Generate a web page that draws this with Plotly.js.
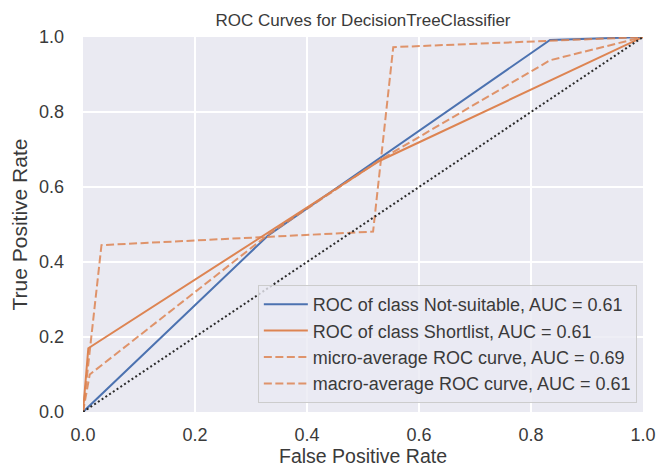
<!DOCTYPE html>
<html>
<head>
<meta charset="utf-8">
<script src="https://cdn.plot.ly/plotly-3.0.1.min.js"></script>
<style>
  html, body { margin: 0; padding: 0; background: #ffffff; }
  #chart { width: 659px; height: 468px; }
</style>
</head>
<body>
<div id="chart"></div>
<script>
// ROC curve points (false positive rate / true positive rate) per series
const notSuitableFpr = [0, 0.33, 0.834, 1];
const notSuitableTpr = [0, 0.47, 0.992, 1];

const shortlistFpr = [0, 0.0095, 0.53, 1];
const shortlistTpr = [0, 0.17, 0.67, 1];

const microFpr = [0, 0.033, 0.518, 0.554, 1];
const microTpr = [0, 0.445, 0.481, 0.973, 1];

const macroFpr = [0, 0.012, 0.33, 0.53, 0.834, 1];
const macroTpr = [0, 0.1, 0.472, 0.672, 0.938, 1];

const chanceLine = [0, 1];

const seriesNames = [
  'ROC of class Not-suitable, AUC = 0.61',
  'ROC of class Shortlist, AUC = 0.61',
  'micro-average ROC curve, AUC = 0.69',
  'macro-average ROC curve, AUC = 0.61'
];

const tickValues = [0, 0.2, 0.4, 0.6, 0.8, 1.0];
const tickLabels = ['0.0', '0.2', '0.4', '0.6', '0.8', '1.0'];

const FONT = 'Liberation Sans, Arial, Helvetica, sans-serif';
const TEXT = '#3a3a3a';
const BLUE = '#4C72B0';
const ORANGE = '#DD8452';
const ORANGE_DASH = 'rgba(221,132,82,0.85)';

const traces = [
  {
    x: notSuitableFpr, y: notSuitableTpr, name: seriesNames[0],
    mode: 'lines', line: { color: BLUE, width: 2 }
  },
  {
    x: shortlistFpr, y: shortlistTpr, name: seriesNames[1],
    mode: 'lines', line: { color: ORANGE, width: 2 }
  },
  {
    x: microFpr, y: microTpr, name: seriesNames[2],
    mode: 'lines', line: { color: ORANGE_DASH, width: 2, dash: '8px,3.5px' }
  },
  {
    x: macroFpr, y: macroTpr, name: seriesNames[3],
    mode: 'lines', line: { color: ORANGE_DASH, width: 2, dash: '8px,3.5px' }
  },
  {
    x: chanceLine, y: chanceLine, showlegend: false,
    mode: 'lines', line: { color: '#2a2a2a', width: 2, dash: '2px,2.5px' },
    hoverinfo: 'skip'
  }
];

const axisBase = {
  range: [0, 1],
  tickvals: tickValues,
  ticktext: tickLabels,
  showgrid: true,
  gridcolor: '#ffffff',
  gridwidth: 1.5,
  zeroline: false,
  showline: false,
  ticks: '',
  tickfont: { family: FONT, size: 18, color: TEXT },
  fixedrange: true
};

const layout = {
  width: 659,
  height: 468,
  margin: { l: 83, r: 16, t: 37, b: 56 },
  paper_bgcolor: '#ffffff',
  plot_bgcolor: '#EAEAF2',
  font: { family: FONT, color: TEXT },
  title: {
    text: 'ROC Curves for DecisionTreeClassifier',
    font: { family: FONT, size: 17, color: TEXT },
    x: 0.5, xref: 'paper', xanchor: 'center',
    y: 0.957, yref: 'container', yanchor: 'middle'
  },
  xaxis: Object.assign({}, axisBase, {
    ticklabelstandoff: 10,
    title: { text: 'False Positive Rate', font: { family: FONT, size: 19.5, color: TEXT }, standoff: 0 }
  }),
  yaxis: Object.assign({}, axisBase, {
    ticklabelstandoff: 18,
    title: { text: 'True Positive Rate', font: { family: FONT, size: 21, color: TEXT }, standoff: 5 }
  }),
  showlegend: true,
  legend: {
    x: 0.989, xanchor: 'right',
    y: 0.024, yanchor: 'bottom',
    bgcolor: 'rgba(234,234,242,0.8)',
    bordercolor: '#cccccc',
    borderwidth: 1,
    itemwidth: 44,
    font: { family: FONT, size: 18, color: TEXT }
  }
};

Plotly.newPlot('chart', traces, layout, { displayModeBar: false, staticPlot: true });
</script>
</body>
</html>
